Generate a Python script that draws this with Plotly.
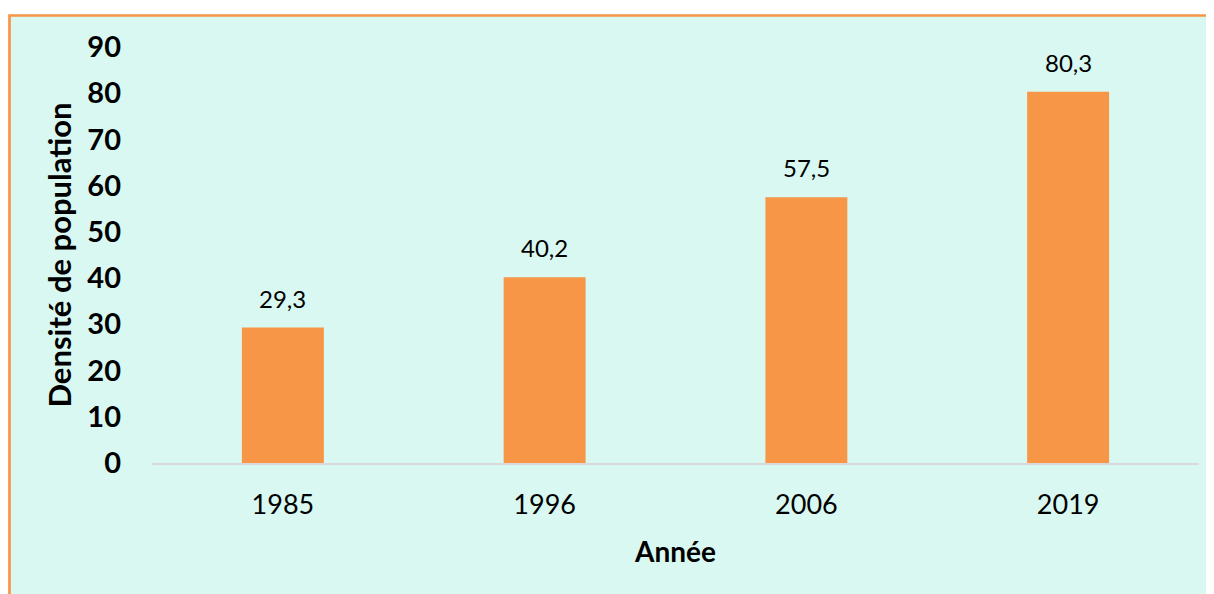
import plotly.graph_objects as go

years = ["1985", "1996", "2006", "2019"]
densite = [29.3, 40.2, 57.5, 80.3]
labels = ["29,3", "40,2", "57,5", "80,3"]
y_ticks = [0, 10, 20, 30, 40, 50, 60, 70, 80, 90]

# page body has an 8px margin; figure sized to fit the window
W, H = 1206, 586
L, R, T, B = 144, 15, 39, 131
pw, ph = W - L - R, H - T - B
FONT = "Lato, Carlito, sans-serif"

fig = go.Figure(go.Bar(
    x=years, y=densite,
    marker=dict(color="#F79646", line=dict(width=0)),
    hoverinfo="x+y",
))

# on a category axis, annotation x is the category index
for i, (v, lab) in enumerate(zip(densite, labels)):
    fig.add_annotation(x=i, y=v, text=lab, showarrow=False,
                       yanchor="bottom", yshift=13,
                       font=dict(size=24, color="#000000", family=FONT))

fig.add_shape(type="rect", xref="paper", yref="paper",
              x0=(1.5 - L) / pw, x1=(W + 20 - L) / pw,
              y0=-(B + 20) / ph, y1=(H - B - 7.5) / ph,
              fillcolor="#D8F8F1", line=dict(color="#F79646", width=2.7),
              layer="below")

fig.update_layout(
    width=W, height=H,
    margin=dict(l=L, r=R, t=T, b=B),
    paper_bgcolor="#FFFFFF", plot_bgcolor="rgba(0,0,0,0)",
    bargap=0.687, showlegend=False,
    font=dict(family=FONT, color="#000000"),
    xaxis=dict(type="category", range=[-0.5, len(years) - 0.5],
               showline=True, linecolor="#D9D9D9", linewidth=1.5,
               tickfont=dict(size=27), ticks="", ticklabelstandoff=17,
               title=dict(text="<b>Année</b>", font=dict(size=28), standoff=23)),
    yaxis=dict(range=[0, 90], tickvals=y_ticks,
               ticktext=[f"<b>{v}</b>" for v in y_ticks],
               tickfont=dict(size=29), showgrid=False, zeroline=False,
               showline=False, ticks="", ticklabelstandoff=30,
               title=dict(text="<b>Densité de population</b>", font=dict(size=31), standoff=6)),
)

fig.write_html("out.html")
